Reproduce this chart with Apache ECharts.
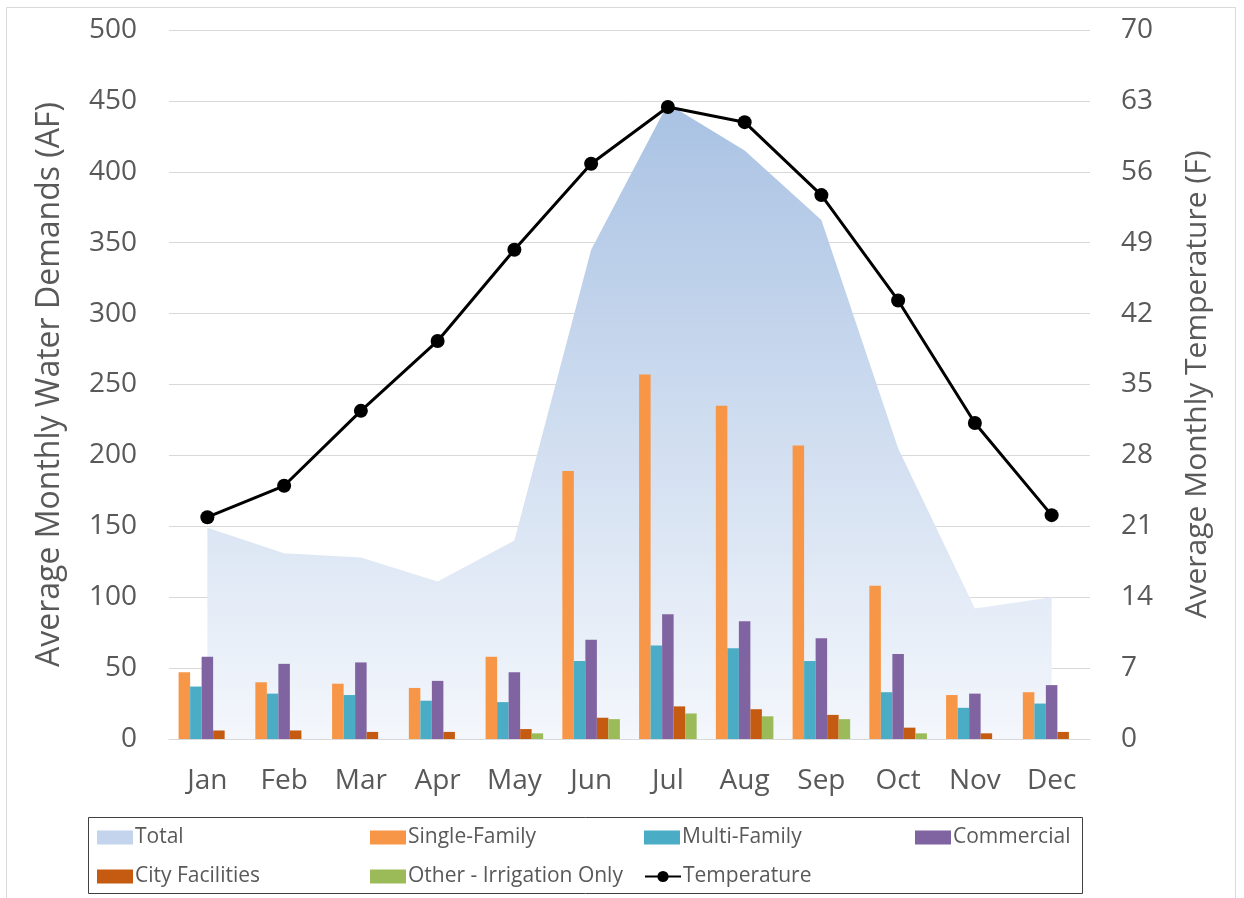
<!DOCTYPE html>
<html>
<head>
<meta charset="utf-8">
<title>Monthly Water Demands</title>
<script src="https://cdn.jsdelivr.net/npm/echarts@6/dist/echarts.min.js"></script>
<style>
  html, body { margin: 0; padding: 0; background: #fff; }
  .chart { width: 1244px; height: 898px; }
</style>
</head>
<body>
<div class="chart"></div>
<script>
// months on the x axis
let months = ['Jan', 'Feb', 'Mar', 'Apr', 'May', 'Jun', 'Jul', 'Aug', 'Sep', 'Oct', 'Nov', 'Dec']

// demands (AF)
let total = [149, 131, 128, 111, 140, 345, 448, 415, 366, 205, 92, 100]
let singleFamily = [47, 40, 39, 36, 58, 189, 257, 235, 207, 108, 31, 33]
let multiFamily = [37, 32, 31, 27, 26, 55, 66, 64, 55, 33, 22, 25]
let commercial = [58, 53, 54, 41, 47, 70, 88, 83, 71, 60, 32, 38]
let cityFacilities = [6, 6, 5, 5, 7, 15, 23, 21, 17, 8, 4, 5]
let otherIrrigation = [0, 0, 0, 0, 4, 14, 18, 16, 14, 4, 0, 0]

// temperature (F), right axis
let temperature = [21.9, 25.0, 32.4, 39.3, 48.3, 56.8, 62.4, 60.9, 53.7, 43.3, 31.2, 22.1]

window.onload = function() {
  let mychart = echarts.init(document.querySelector('.chart'))
  let font = 'Open Sans'
  let grey = '#595959'

  // one legend per item so every entry sits in its own column
  function legendItem(name, left, top, icon) {
    let item = { name: name }
    if (icon) item.icon = icon
    if (name == 'Total') item.itemStyle = { color: '#c3d4ec' }
    return {
      data: [item],
      left: left,
      top: top,
      itemWidth: 36,
      itemHeight: 14,
      itemGap: 0,
      textStyle: { color: grey, fontFamily: font, fontSize: 21, padding: [0, 0, 0, -3] },
      selectedMode: false
    }
  }

  function bar(name, data, color) {
    return {
      name: name,
      type: 'bar',
      data: data,
      barGap: '0%',
      barCategoryGap: '25%',
      itemStyle: { color: color },
      z: 3
    }
  }

  let option = {
    animation: false,
    backgroundColor: '#fff',
    textStyle: { fontFamily: font },
    grid: { left: 169, right: 154, top: 30, bottom: 159 },
    legend: [
      legendItem('Total', 92, 822, 'rect'),
      legendItem('Single-Family', 365, 822, 'rect'),
      legendItem('Multi-Family', 639, 822, 'rect'),
      legendItem('Commercial', 910, 822, 'rect'),
      legendItem('City Facilities', 92, 861, 'rect'),
      legendItem('Other - Irrigation Only', 365, 861, 'rect'),
      legendItem('Temperature', 639, 861)
    ],
    graphic: [
      // outer chart border
      {
        type: 'rect',
        shape: { x: 6.5, y: 7.5, width: 1229, height: 900 },
        style: { fill: 'none', stroke: '#d9d9d9', lineWidth: 1 },
        silent: true
      },
      // legend box
      {
        type: 'rect',
        shape: { x: 88.5, y: 817.5, width: 994, height: 76 },
        style: { fill: 'none', stroke: '#404040', lineWidth: 1 },
        silent: true
      }
    ],
    xAxis: {
      type: 'category',
      data: months,
      axisLine: { lineStyle: { color: '#d9d9d9' } },
      axisTick: { show: false },
      axisLabel: { color: grey, fontSize: 28, margin: 28 }
    },
    yAxis: [
      {
        type: 'value',
        min: 0,
        max: 500,
        interval: 50,
        name: 'Average Monthly Water Demands (AF)',
        nameLocation: 'middle',
        nameGap: 103,
        nameTextStyle: { color: grey, fontSize: 32 },
        axisLabel: { color: grey, fontSize: 28, margin: 32 },
        splitLine: { lineStyle: { color: '#d9d9d9' } }
      },
      {
        type: 'value',
        min: 0,
        max: 70,
        interval: 7,
        name: 'Average Monthly Temperature (F)',
        nameLocation: 'middle',
        nameGap: 92,
        nameTextStyle: { color: grey, fontSize: 30 },
        axisLabel: { color: grey, fontSize: 28, margin: 31 },
        splitLine: { show: false }
      }
    ],
    series: [
      {
        name: 'Total',
        type: 'line',
        data: total,
        symbol: 'none',
        lineStyle: { width: 0 },
        itemStyle: { color: '#c3d4ec' },
        areaStyle: {
          opacity: 1,
          color: new echarts.graphic.LinearGradient(0, 0, 0, 1, [
            { offset: 0, color: '#a9c2e3' },
            { offset: 1, color: '#f4f7fc' }
          ])
        },
        z: 1
      },
      bar('Single-Family', singleFamily, '#f79646'),
      bar('Multi-Family', multiFamily, '#4bacc6'),
      bar('Commercial', commercial, '#8064a2'),
      bar('City Facilities', cityFacilities, '#c55a11'),
      bar('Other - Irrigation Only', otherIrrigation, '#9bbb59'),
      {
        name: 'Temperature',
        type: 'line',
        yAxisIndex: 1,
        data: temperature,
        symbol: 'circle',
        symbolSize: 14,
        itemStyle: { color: '#000' },
        lineStyle: { color: '#000', width: 3 },
        z: 5
      }
    ]
  }

  mychart.setOption(option)
}
</script>
</body>
</html>
